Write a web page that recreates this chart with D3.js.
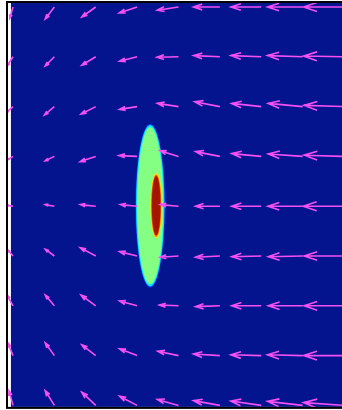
<!DOCTYPE html>
<html>
<head>
<meta charset="utf-8">
<script src="https://cdn.jsdelivr.net/npm/d3@7"></script>
<style>
  body { margin: 0; background: #fff; }
</style>
</head>
<body>
<svg id="chart" width="342" height="410"></svg>
<script>
// grid of the vector field (data units)
const colX = [0, 1, 2, 3, 4, 5, 6, 7, 8];
const rowY = [4, 3, 2, 1, 0, -1, -2, -3, -4];

// x component, one row per rowY entry (top to bottom)
const uRows = [
  [-0.08, -0.23, -0.35, -0.45, -0.53, -0.66, -0.76, -0.88, -1.01],
  [-0.15, -0.23, -0.35, -0.44, -0.54, -0.66, -0.76, -0.88, -1.01],
  [-0.17, -0.25, -0.37, -0.44, -0.53, -0.63, -0.74, -0.86, -1.00],
  [-0.13, -0.23, -0.39, -0.46, -0.46, -0.61, -0.74, -0.86, -1.00],
  [-0.13, -0.23, -0.39, -0.42, -0.46, -0.61, -0.74, -0.87, -1.02],
  [-0.13, -0.23, -0.39, -0.44, -0.46, -0.61, -0.74, -0.86, -1.00],
  [-0.15, -0.23, -0.37, -0.44, -0.48, -0.61, -0.74, -0.86, -1.00],
  [-0.13, -0.23, -0.35, -0.44, -0.52, -0.66, -0.76, -0.88, -1.01],
  [-0.10, -0.23, -0.35, -0.44, -0.53, -0.66, -0.76, -0.88, -1.01]
];

// y component (positive = up)
const vRows = [
  [-0.28, -0.30, -0.25, -0.15, -0.08, 0.00, 0.00, 0.00, 0.00],
  [-0.23, -0.23, -0.21, -0.11, -0.01, 0.03, 0.03, 0.03, 0.02],
  [-0.15, -0.21, -0.19, -0.07, 0.08, 0.12, 0.08, 0.08, 0.03],
  [-0.08, -0.11, -0.13, 0.02, 0.14, 0.12, 0.07, 0.06, 0.03],
  [0.02, 0.04, 0.04, 0.04, 0.04, 0.00, 0.00, 0.00, 0.00],
  [0.15, 0.17, 0.21, 0.11, -0.03, -0.03, -0.02, -0.02, 0.00],
  [0.27, 0.27, 0.27, 0.12, 0.02, -0.02, 0.00, 0.00, 0.00],
  [0.32, 0.32, 0.27, 0.17, 0.11, 0.04, 0.02, 0.02, 0.00],
  [0.37, 0.37, 0.33, 0.23, 0.15, 0.12, 0.11, 0.10, 0.07]
];

// filled blob levels (outer to inner)
const blobCx = [3.316, 3.316, 3.316, 3.461, 3.461, 3.461];
const blobCy = [0.01, 0.01, 0.01, 0.01, 0.01, 0.01];
const blobRx = [0.36, 0.343, 0.315, 0.142, 0.124, 0.104];
const blobRy = [1.645, 1.622, 1.575, 0.655, 0.628, 0.595];
const blobColors = ["#0a3cf0", "#10e8ff", "#84ff84", "#ffe600", "#ff6000", "#a31200"];

const xLim = [-0.145, 8.6];
const yLim = [-4.05, 4.1];
const imgX = [-0.05, 8.6];
const imgY = [-4.03, 4.08];

let svg = d3.select("#chart");

let xScale = d3.scaleLinear().domain([0, 8]).range([13, 344]);
let yScale = d3.scaleLinear().domain([4, -4]).range([7, 405.4]);
let arrowLen = d3.scaleLinear().domain([0, 1]).range([0, 40]);

let defs = svg.append("defs");
defs.append("clipPath").attr("id", "axclip")
  .append("rect")
  .attr("x", xScale(xLim[0]))
  .attr("y", yScale(yLim[1]))
  .attr("width", xScale(xLim[1]) - xScale(xLim[0]))
  .attr("height", yScale(yLim[0]) - yScale(yLim[1]));
defs.append("filter").attr("id", "soft")
  .append("feGaussianBlur").attr("stdDeviation", 0.55);

let g = svg.append("g").attr("clip-path", "url(#axclip)");

// background of the image
g.append("rect")
  .attr("x", xScale(imgX[0]))
  .attr("y", yScale(imgY[1]))
  .attr("width", xScale(imgX[1]) - xScale(imgX[0]))
  .attr("height", yScale(imgY[0]) - yScale(imgY[1]))
  .attr("fill", "#04148e");

// blob
g.append("g").attr("filter", "url(#soft)")
  .selectAll("ellipse")
  .data(d3.range(blobCx.length))
  .enter()
  .append("ellipse")
  .attr("cx", i => xScale(blobCx[i]))
  .attr("cy", i => yScale(blobCy[i]))
  .attr("rx", i => xScale(blobRx[i]) - xScale(0))
  .attr("ry", i => yScale(0) - yScale(blobRy[i]))
  .attr("fill", i => blobColors[i]);

// quiver arrows: tail at grid point, shaft + two head lines
let alpha = 0.33, beta = 0.33;
let vectors = [];
rowY.forEach(function(y, r){
  colX.forEach(function(x, c){
    vectors.push({x: x, y: y, u: uRows[r][c], v: vRows[r][c]});
  });
});

g.append("g")
  .selectAll("path")
  .data(vectors)
  .enter()
  .append("path")
  .attr("d", function(d){
    let x0 = xScale(d.x), y0 = yScale(d.y);
    let dx = arrowLen(d.u), dy = -arrowLen(d.v);
    let tx = x0 + dx, ty = y0 + dy;
    let h1x = tx - alpha * (dx + beta * dy), h1y = ty - alpha * (dy - beta * dx);
    let h2x = tx - alpha * (dx - beta * dy), h2y = ty - alpha * (dy + beta * dx);
    return "M" + x0 + "," + y0 + "L" + tx + "," + ty +
           "M" + h1x + "," + h1y + "L" + tx + "," + ty + "L" + h2x + "," + h2y;
  })
  .attr("fill", "none")
  .attr("stroke", "#f450f4")
  .attr("stroke-width", 1.6)
  .attr("stroke-linecap", "butt")
  .attr("stroke-linejoin", "miter");

// axes frame
svg.append("rect")
  .attr("x", xScale(xLim[0]))
  .attr("y", yScale(yLim[1]))
  .attr("width", xScale(xLim[1]) - xScale(xLim[0]))
  .attr("height", yScale(yLim[0]) - yScale(yLim[1]))
  .attr("fill", "none")
  .attr("stroke", "#000")
  .attr("stroke-width", 2);
</script>
</body>
</html>
